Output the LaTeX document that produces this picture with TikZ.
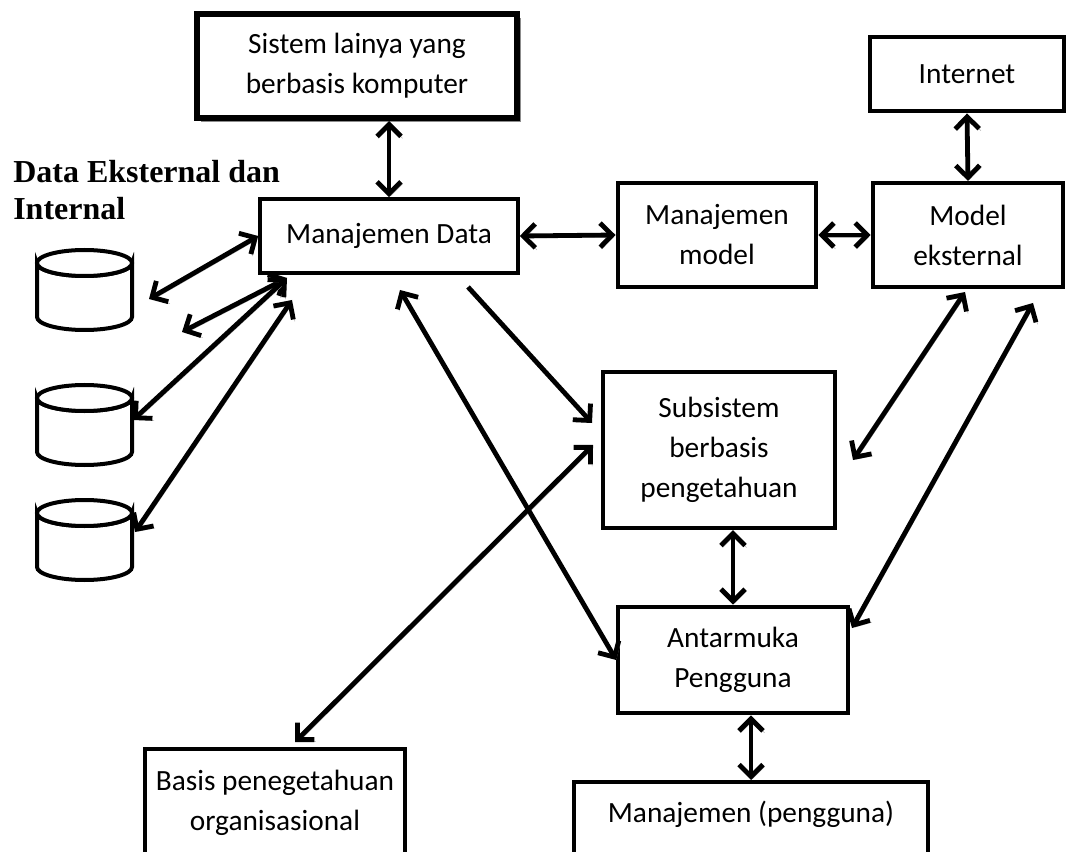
\documentclass[tikz,border=0pt]{standalone}
\usepackage{fontspec}
\setmainfont{Carlito}
\newfontfamily\titlefont{Liberation Serif}
\usetikzlibrary{arrows.meta,shadows}

\tikzset{
  box/.style={draw, line width=3.2pt, fill=white, align=center, inner sep=0pt,
    font=\fontsize{22pt}{30pt}\selectfont},
  link/.style={line width=3.6pt,
    {Straight Barb[length=9pt,width=18pt]}-{Straight Barb[length=9pt,width=18pt]},
    preaction={draw=black!30, transform canvas={shift={(1.2pt,-1.5pt)}}}},
  onelink/.style={line width=3.6pt, -{Straight Barb[length=9pt,width=18pt]},
    preaction={draw=black!30, transform canvas={shift={(1.2pt,-1.5pt)}}}},
  drum/.style={line width=3pt, fill=white},
}

\begin{document}
\begin{tikzpicture}[x=0.75pt,y=-0.75pt]
\useasboundingbox (0,0) rectangle (1068,852);
\clip (0,0) rectangle (1068,852);

% boxes
\node[box, line width=4.5pt, minimum width=240pt, minimum height=78pt,
  drop shadow={shadow xshift=3pt, shadow yshift=-3pt, fill=black!45, opacity=1}]
  (sistem) at (357,66) {Sistem lainya yang\\berbasis komputer};
\node[box, minimum width=193pt, minimum height=55pt] (mdata) at (389,236) {Manajemen Data};
\node[box, minimum width=149pt, minimum height=78pt] (mmodel) at (717,235) {Manajemen\\model};
\node[box, minimum width=143pt, minimum height=78pt] (mext) at (968,235) {Model\\eksternal};
\node[box, minimum width=145pt, minimum height=56pt] (internet) at (967,74) {Internet};
\node[box, minimum width=174pt, minimum height=117pt] (subsis) at (719,450) {Subsistem\\berbasis\\pengetahuan};
\node[box, minimum width=172pt, minimum height=80pt] (antar) at (733,660) {Antarmuka\\Pengguna};
\node[box, anchor=north, minimum width=265pt, text height=15pt, text depth=70pt, inner ysep=15pt]
  (mpeng) at (751,780) {Manajemen (pengguna)};
\node[box, anchor=north, minimum width=195pt, text height=46pt, text depth=40pt, inner ysep=15pt]
  (basis) at (275,747) {Basis penegetahuan\\organisasional};

% data sources
\node[anchor=base west, align=left, inner sep=0pt,
  font=\titlefont\bfseries\fontsize{24pt}{28pt}\selectfont]
  (judul) at (13,220) {Data Eksternal dan\\Internal};
\foreach \top/\nm in {250/db1,385/db2,500/db3}{
  \draw[drum] (37,\top+13) -- (37,\top+67) arc[start angle=180, end angle=0, x radius=47.5, y radius=13]
    -- (132,\top+13) arc[start angle=0, end angle=180, x radius=47.5, y radius=13] -- cycle;
  \draw[drum] (84.5,\top+13) ellipse[x radius=47.5, y radius=13];
  \coordinate (\nm) at (84.5,\top+40);
}

% free ends of connectors
\coordinate (dbA) at (149,299);
\coordinate (dbB) at (182,332);
\coordinate (dbC) at (133,420);
\coordinate (dbD) at (135,532);
\coordinate (mdB) at (287,278);
\coordinate (mdD) at (292,300);
\coordinate (mdS) at (468,287);
\coordinate (mdA) at (400,290);
\coordinate (ssD) at (592,423);
\coordinate (ssB) at (593,445);
\coordinate (ssM) at (853,460);
\coordinate (bsT) at (295,742);
\coordinate (meS) at (965,292);
\coordinate (meA) at (1033,303);
\coordinate (anM) at (852,628);

% connectors
\draw[link] (mdata.north |- sistem.south) -- (mdata.north);
\draw[link] (internet.south) -- (mext.north);
\draw[link] (mdata.east) -- (mmodel.west);
\draw[link] (mmodel.east) -- (mext.west);
\draw[link] (dbA) -- (mdata.west);
\draw[link] (dbB) -- (mdB);
\draw[link] (dbC) -- (mdB);
\draw[link] (dbD) -- (mdD);
\draw[onelink] (mdS) -- (ssD);
\draw[link] (bsT) -- (ssB);
\draw[link] (mdA) -- (antar.west);
\draw[link] (meS) -- (ssM);
\draw[link] (meA) -- (anM);
\draw[link] (antar.north |- subsis.south) -- (antar.north);
\draw[link] (mpeng.north |- antar.south) -- (mpeng.north);
\end{tikzpicture}
\end{document}
